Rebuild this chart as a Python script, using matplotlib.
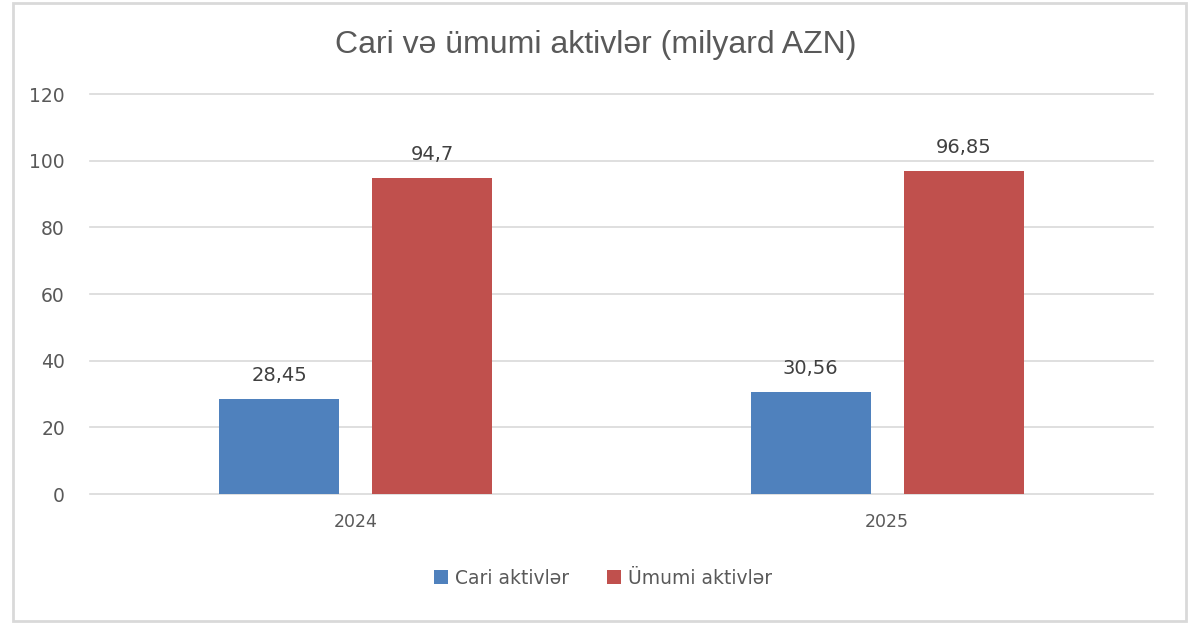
import matplotlib.pyplot as plt
import numpy as np
from matplotlib.patches import Rectangle

years = ['2024', '2025']
cari = [28.45, 30.56]
umumi = [94.7, 96.85]
cari_labels = ['28,45', '30,56']
umumi_labels = ['94,7', '96,85']

blue = '#4f81bd'
red = '#c0504d'
txt = '#595959'

fig = plt.figure(figsize=(11.92, 6.3), dpi=100)
ax = fig.add_axes([90/1192, (630-494)/630, (1153-90)/1192, 400/630])

x = np.arange(len(years))
w = 0.225
off = 0.144
b1 = ax.bar(x - off, cari, width=w, color=blue, label='Cari aktivlər', zorder=3)
b2 = ax.bar(x + off, umumi, width=w, color=red, label='Ümumi aktivlər', zorder=3)

for bars, labs in [(b1, cari_labels), (b2, umumi_labels)]:
    for rect, lab in zip(bars, labs):
        ax.annotate(lab, (rect.get_x() + rect.get_width()/2, rect.get_height()),
                    xytext=(0, 10), textcoords='offset points', ha='center', va='bottom',
                    fontsize=14, color='#404040', family='DejaVu Sans')

ax.set_xlim(-0.5, 1.5)
ax.set_ylim(0, 120)
ax.set_yticks(range(0, 121, 20))
ax.set_xticks(x)
ax.set_xticklabels(years)
ax.grid(axis='y', color='#d9d9d9', linewidth=1.2, zorder=0)
for gl in ax.get_ygridlines():
    gl.set_clip_on(False)
for s in ax.spines.values():
    s.set_visible(False)
ax.tick_params(length=0, labelsize=12.5, labelcolor=txt)
ax.tick_params(axis='y', labelsize=13.5, pad=18)
ax.tick_params(axis='x', pad=14)

fig.text(0.5, 1 - 45/630, 'Cari və ümumi aktivlər (milyard AZN)', ha='center', va='center',
         fontsize=23, color=txt, family='Liberation Sans')

fig.legend(loc='center', bbox_to_anchor=(0.506, 1 - 578/630), ncol=2, frameon=False,
           fontsize=13.5, labelcolor=txt, handlelength=0.75, handleheight=0.75,
           handletextpad=0.4, columnspacing=2.0)

fig.patches.append(Rectangle((13/1192, 1 - 621/630), (1186-13)/1192, (621-3)/630,
                             transform=fig.transFigure, fill=False, edgecolor='#d9d9d9',
                             linewidth=2))

fig.savefig('out.png', dpi=100, facecolor='white')
